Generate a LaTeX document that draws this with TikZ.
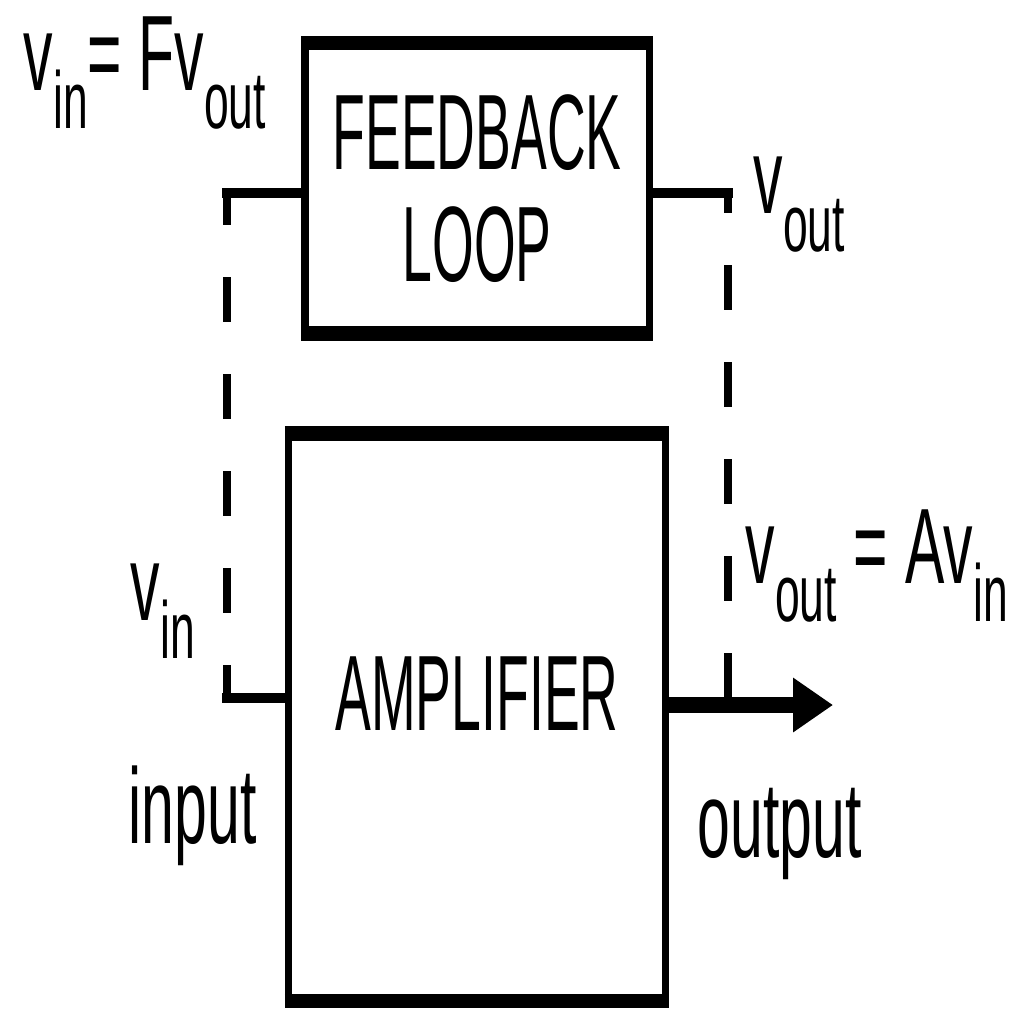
\documentclass[tikz,border=0pt]{standalone}
\usepackage{fontspec}
\setmainfont[FakeStretch=0.5]{Liberation Sans}
\newfontfamily\lblfont[FakeStretch=0.55]{Liberation Sans}
\usetikzlibrary{arrows.meta,positioning}
\newcommand{\lowsub}[1]{\raisebox{-0.38cm}{\fontsize{23}{23}\selectfont #1}}

\begin{document}
\begin{tikzpicture}[font=\fontsize{30.5}{32}\selectfont, box/.style={draw, line width=2pt, inner sep=0pt, align=center}, rim/.style={line width=4pt}, wire/.style={line width=2.2pt}, hwire/.style={line width=3pt, line cap=rect}, dashline/.style={dash pattern=on 0.45cm off 0.52cm}, lbl/.style={anchor=base west, inner sep=0pt, font=\fontsize{30.5}{32}\lblfont}, arr/.style={-{Triangle[length=0.4cm, width=0.52cm]}, line width=4.5pt}]
\useasboundingbox (0,0) rectangle (10.29,10.09);
\node[box, minimum width=3.77cm, text height=2.93cm, text depth=2.67cm] (amp) at (4.77,2.92) {AMPLIFIER};
\node[box, minimum width=3.44cm, minimum height=2.83cm, above=1cm of amp] (fb) {FEEDBACK\\LOOP};
\draw[rim] (amp.north west) -- (amp.north east);
\draw[rim] (amp.south west) -- (amp.south east);
\draw[rim] (fb.north west) -- (fb.north east);
\draw[rim] (fb.south west) -- (fb.south east);
\coordinate (tl) at (2.27,8.16);
\coordinate (tr) at (7.28,8.16);
\coordinate (bl) at (2.27,3.11);
\coordinate (out) at (8.33,3.04);
\draw[hwire] (tl -| fb.west) -- (tl);
\draw[wire, dashline, dash phase=0.13cm] (tl) -- (bl);
\draw[hwire] (bl) -- (bl -| amp.west);
\draw[hwire] (tr -| fb.east) -- (tr);
\draw[wire, dashline, dash phase=0.25cm] (tr) -- (tr |- out);
\draw[arr] (out -| amp.east) -- (out);
\node[lbl] (fbin) at (0.23,9.19) {v\lowsub{in}= Fv\lowsub{out}};
\node[lbl] (fbout) at (7.53,7.96) {v\lowsub{out}};
\node[lbl] (ampout) at (7.45,4.26) {v\lowsub{out} =\,Av\lowsub{in}};
\node[lbl] (ampin) at (1.30,3.89) {v\lowsub{in}};
\node[lbl] (input) at (1.28,1.66) {input};
\node[lbl] (output) at (6.97,1.52) {output};
\end{tikzpicture}
\end{document}
